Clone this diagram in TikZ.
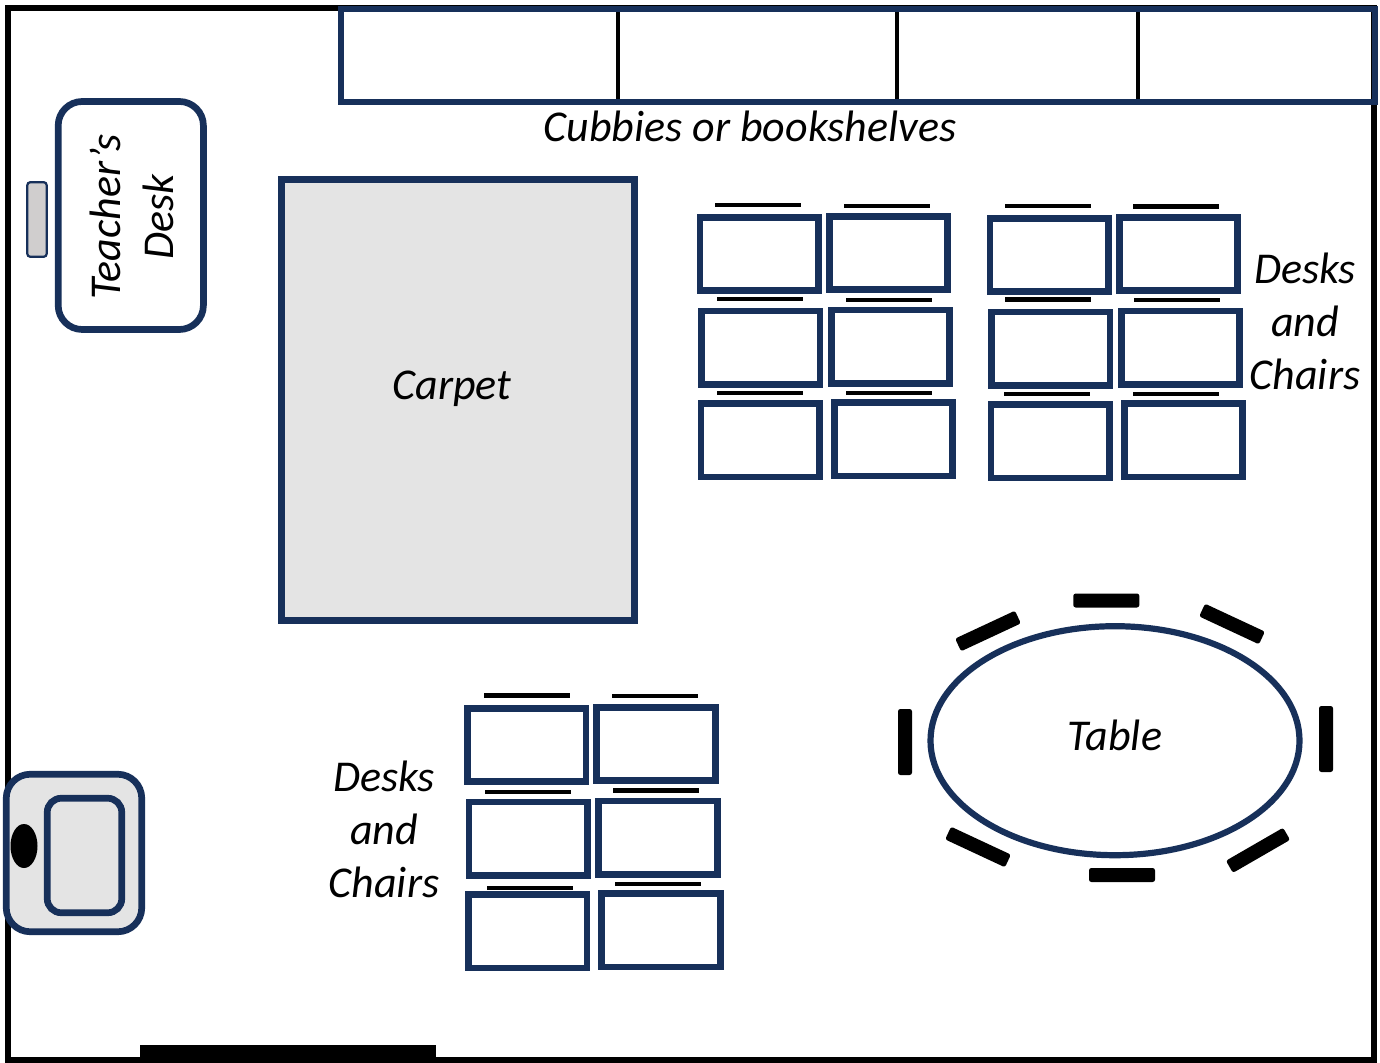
\documentclass[tikz,border=0pt]{standalone}
\usepackage{fontspec}
\usetikzlibrary{shapes.geometric}
\setmainfont{Carlito}
\definecolor{navy}{HTML}{17305A}
\definecolor{pale}{HTML}{E4E4E4}
\definecolor{seat}{HTML}{D0CECE}
\tikzset{
  x=0.5pt,y=-0.5pt,
  outline/.style={draw=navy,line width=3.35pt},
  deskbox/.style={outline,fill=white,rectangle,inner sep=0pt,minimum width=59.25pt,minimum height=36.75pt},
  deskchair/.style={fill=black,rectangle,inner sep=0pt,minimum width=43pt,minimum height=2.2pt},
  tablechair/.style={fill=black,rectangle,rounded corners=1.2pt,inner sep=0pt,minimum width=33pt,minimum height=7pt},
  lbl/.style={font=\fontsize{22}{26.5}\selectfont\itshape,align=center,text=black,inner sep=0pt}
}
\begin{document}
\begin{tikzpicture}
\useasboundingbox (0,0) rectangle (1380,1063);
\fill[white] (0,0) rectangle (1380,1063);
% walls
\draw[line width=3.3pt,black] (8,8) rectangle (1374,1060.5);
\fill[black] (140,1045) rectangle (436,1063);
% cubbies
\draw[line width=1.7pt,black] (618,8) -- (618,102) (897,8) -- (897,102) (1138,8) -- (1138,102);
\draw[line width=3.2pt,navy] (341,9) rectangle (1375,102);
\node[lbl] (cubbies) at (750,126) {Cubbies or bookshelves};
% teacher's desk
\node[outline,rectangle,rounded corners=12pt,inner sep=0pt,minimum width=72.6pt,minimum height=114pt,fill=white] (tdesk) at (130.8,215.5) {};
\node[lbl,rotate=90] (tdesklabel) at (132,217) {Teacher’s\\Desk};
\node[draw=navy,line width=1.1pt,fill=seat,rectangle,rounded corners=1.5pt,inner sep=0pt,minimum width=9.7pt,minimum height=37.3pt] (tchair) at (37,219.5) {};
% carpet
\node[outline,fill=pale,rectangle,inner sep=0pt,minimum width=176.75pt,minimum height=220.75pt] (carpet) at (458,400) {};
\node[lbl] (carpetlabel) at (452,389) {Carpet};
% sink
\node[outline,fill=pale,rectangle,rounded corners=12pt,inner sep=0pt,minimum width=67.75pt,minimum height=78.75pt] (sink) at (74,853) {};
\node[outline,fill=pale,rectangle,rounded corners=7pt,inner sep=0pt,minimum width=37.25pt,minimum height=57.25pt] (basin) at (84.5,855.5) {};
\node[fill=black,ellipse,inner sep=0pt,minimum width=13.5pt,minimum height=22pt] (drain) at (24,846) {};
% desk groups
\foreach \g/\ox/\oy in {a/0/0,b/290/1,c/-232.5/491}{
  \foreach \n/\dx/\dy in {1/696.7/214,2/826/213,3/698.3/307.7,4/828/306.7,5/697.7/400.3,6/831/399.3}{
    \node[deskbox] (desk\g\n) at ({\dx+62.5+\ox},{\dy+40+\oy}) {};
  }
}
\foreach \g/\n/\cx/\cy in {a/1/758/205,a/2/886.5/206,a/3/760.3/299.3,a/4/889/300,a/5/760.3/393,a/6/889/393.3,
  b/1/1048/206,b/2/1176/206.5,b/3/1048/299.5,b/4/1177/300,b/5/1047/394,b/6/1176/394.3,
  c/1/527/695.5,c/2/655/696,c/3/527.5/792,c/4/656/790.5,c/5/530/888,c/6/658/884}{
  \node[deskchair] (chair\g\n) at (\cx,\cy) {};
}
\node[lbl] (desksa) at (1305,321) {Desks\\and\\Chairs};
\node[lbl] (desksb) at (384,829) {Desks\\and\\Chairs};
% table
\node[draw=navy,line width=3.1pt,fill=white,ellipse,inner sep=0pt,minimum width=184.5pt,minimum height=114.5pt] (table) at (1115,740.7) {};
\node[lbl] (tablelabel) at (1115,735) {Table};
\node[tablechair] (t1) at (1106.3,600.5) {};
\node[tablechair,rotate=-25] (t2) at (1232,624) {};
\node[tablechair,rotate=25] (t3) at (988,631) {};
\node[tablechair,rotate=90] (t4) at (905,742) {};
\node[tablechair,rotate=90] (t5) at (1326,739) {};
\node[tablechair,rotate=-25] (t6) at (978,847) {};
\node[tablechair,rotate=30] (t7) at (1258,850.3) {};
\node[tablechair] (t8) at (1122,875) {};
\end{tikzpicture}
\end{document}
